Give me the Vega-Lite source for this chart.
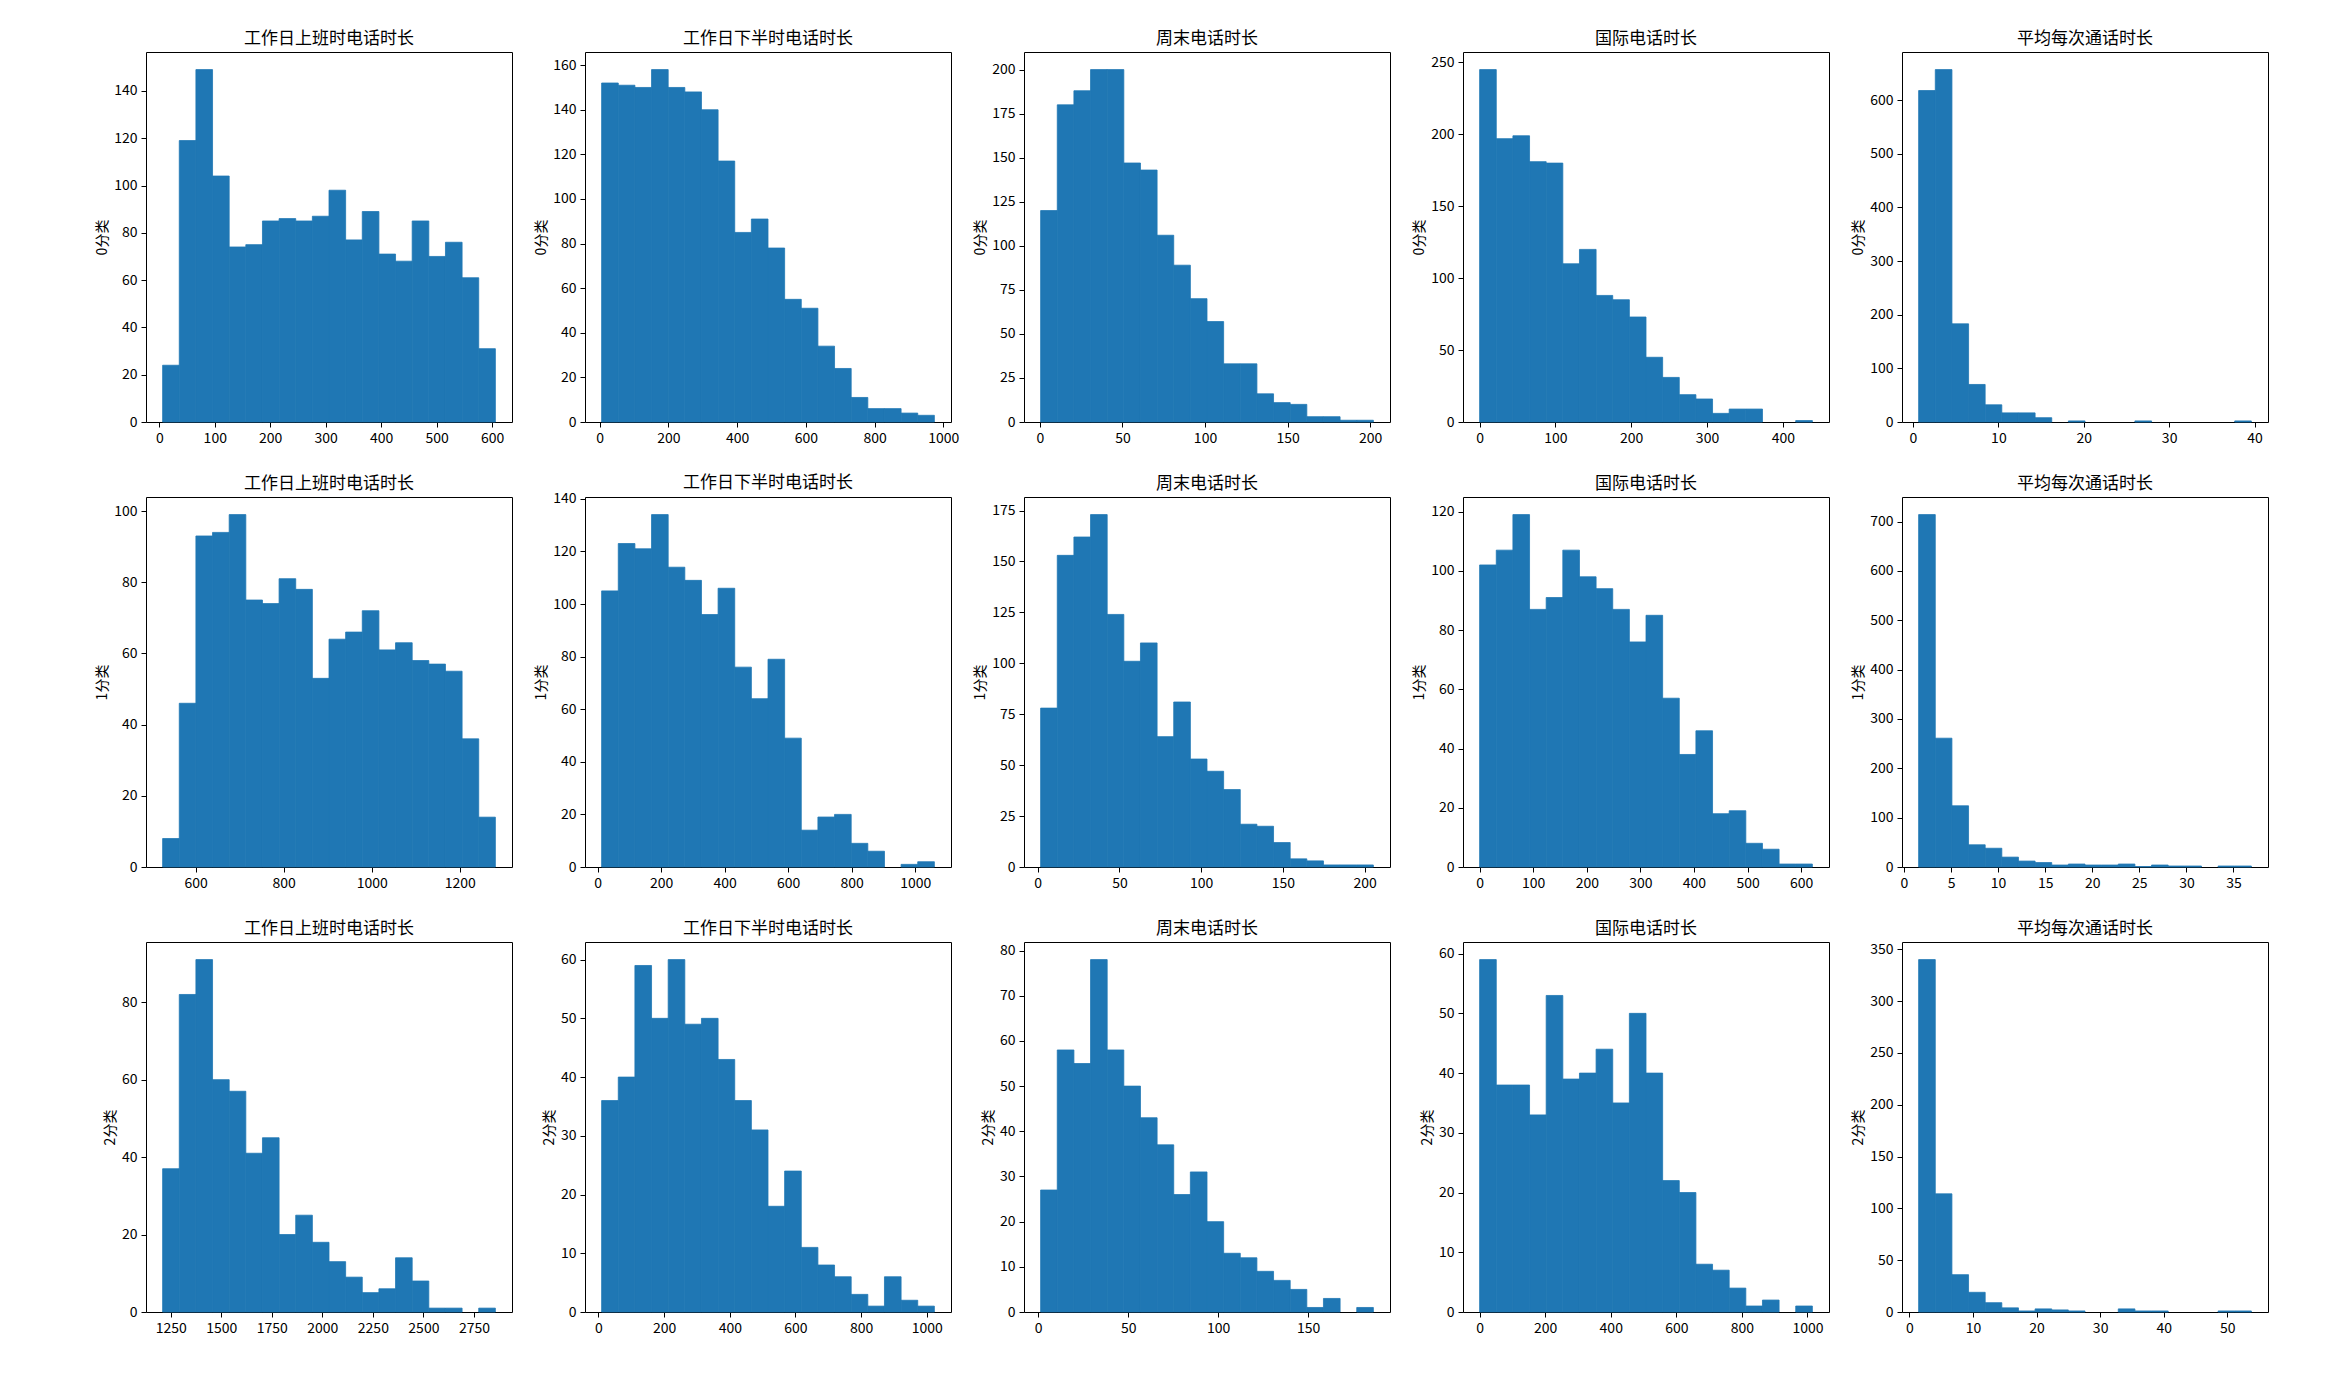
{
"$schema": "https://vega.github.io/schema/vega-lite/v6.json",
"background": "white",
"padding": {"left": 95, "top": 29, "right": 5, "bottom": 5},
"bounds": "flush",
"columns": 5,
"spacing": {"row": 75, "column": 73},
"resolve": {"scale": {"x": "independent", "y": "independent"}},
"config": {
  "numberFormat": "d",
  "view": {"stroke": "black", "strokeWidth": 1},
  "rect": {"color": "#1f77b4", "stroke": "#1f77b4", "strokeWidth": 0.8},
  "axis": {"domain": false, "grid": false, "tickColor": "black", "tickSize": 5, "tickWidth": 1, "labelFont": "Noto Sans CJK SC", "labelFontSize": 14, "labelColor": "black", "labelPadding": 4, "titleFont": "Noto Sans CJK SC", "titleFontSize": 14, "titleFontWeight": "normal", "titleColor": "black", "titlePadding": 4, "format": "d"},
  "title": {"font": "Noto Sans CJK SC", "fontSize": 17, "fontWeight": "normal", "anchor": "middle", "frame": "group", "offset": 4, "color": "black"}
},
"datasets": {
  "r0c0": [{"s":6,"e":36,"n":24},{"s":36,"e":66,"n":119},{"s":66,"e":96,"n":149},{"s":96,"e":126,"n":104},{"s":126,"e":156,"n":74},{"s":156,"e":186,"n":75},{"s":186,"e":216,"n":85},{"s":216,"e":246,"n":86},{"s":246,"e":276,"n":85},{"s":276,"e":306,"n":87},{"s":306,"e":336,"n":98},{"s":336,"e":366,"n":77},{"s":366,"e":396,"n":89},{"s":396,"e":426,"n":71},{"s":426,"e":456,"n":68},{"s":456,"e":486,"n":85},{"s":486,"e":516,"n":70},{"s":516,"e":546,"n":76},{"s":546,"e":576,"n":61},{"s":576,"e":606,"n":31}],
  "r0c1": [{"s":5.6,"e":54.02,"n":152},{"s":54.02,"e":102.44,"n":151},{"s":102.44,"e":150.86,"n":150},{"s":150.86,"e":199.28,"n":158},{"s":199.28,"e":247.7,"n":150},{"s":247.7,"e":296.12,"n":148},{"s":296.12,"e":344.54,"n":140},{"s":344.54,"e":392.96,"n":117},{"s":392.96,"e":441.38,"n":85},{"s":441.38,"e":489.8,"n":91},{"s":489.8,"e":538.22,"n":78},{"s":538.22,"e":586.64,"n":55},{"s":586.64,"e":635.06,"n":51},{"s":635.06,"e":683.48,"n":34},{"s":683.48,"e":731.9,"n":24},{"s":731.9,"e":780.32,"n":11},{"s":780.32,"e":828.74,"n":6},{"s":828.74,"e":877.16,"n":6},{"s":877.16,"e":925.58,"n":4},{"s":925.58,"e":974,"n":3}],
  "r0c2": [{"s":0.4,"e":10.48,"n":120},{"s":10.48,"e":20.56,"n":180},{"s":20.56,"e":30.64,"n":188},{"s":30.64,"e":40.72,"n":200},{"s":40.72,"e":50.8,"n":200},{"s":50.8,"e":60.88,"n":147},{"s":60.88,"e":70.96,"n":143},{"s":70.96,"e":81.04,"n":106},{"s":81.04,"e":91.12,"n":89},{"s":91.12,"e":101.2,"n":70},{"s":101.2,"e":111.28,"n":57},{"s":111.28,"e":121.36,"n":33},{"s":121.36,"e":131.44,"n":33},{"s":131.44,"e":141.52,"n":16},{"s":141.52,"e":151.6,"n":11},{"s":151.6,"e":161.68,"n":10},{"s":161.68,"e":171.76,"n":3},{"s":171.76,"e":181.84,"n":3},{"s":181.84,"e":191.92,"n":1},{"s":191.92,"e":202,"n":1}],
  "r0c3": [{"s":0,"e":21.95,"n":245},{"s":21.95,"e":43.9,"n":197},{"s":43.9,"e":65.85,"n":199},{"s":65.85,"e":87.8,"n":181},{"s":87.8,"e":109.75,"n":180},{"s":109.75,"e":131.7,"n":110},{"s":131.7,"e":153.65,"n":120},{"s":153.65,"e":175.6,"n":88},{"s":175.6,"e":197.55,"n":85},{"s":197.55,"e":219.5,"n":73},{"s":219.5,"e":241.45,"n":45},{"s":241.45,"e":263.4,"n":31},{"s":263.4,"e":285.35,"n":19},{"s":285.35,"e":307.3,"n":16},{"s":307.3,"e":329.25,"n":6},{"s":329.25,"e":351.2,"n":9},{"s":351.2,"e":373.15,"n":9},{"s":373.15,"e":395.1,"n":0},{"s":395.1,"e":417.05,"n":0},{"s":417.05,"e":439,"n":1}],
  "r0c4": [{"s":0.66,"e":2.61,"n":618},{"s":2.61,"e":4.56,"n":657},{"s":4.56,"e":6.51,"n":183},{"s":6.51,"e":8.45,"n":70},{"s":8.45,"e":10.4,"n":32},{"s":10.4,"e":12.35,"n":17},{"s":12.35,"e":14.3,"n":17},{"s":14.3,"e":16.25,"n":8},{"s":16.25,"e":18.2,"n":0},{"s":18.2,"e":20.15,"n":2},{"s":20.15,"e":22.09,"n":0},{"s":22.09,"e":24.04,"n":0},{"s":24.04,"e":25.99,"n":0},{"s":25.99,"e":27.94,"n":2},{"s":27.94,"e":29.89,"n":0},{"s":29.89,"e":31.84,"n":0},{"s":31.84,"e":33.78,"n":0},{"s":33.78,"e":35.73,"n":0},{"s":35.73,"e":37.68,"n":0},{"s":37.68,"e":39.63,"n":2}],
  "r1c0": [{"s":525,"e":562.8,"n":8},{"s":562.8,"e":600.6,"n":46},{"s":600.6,"e":638.4,"n":93},{"s":638.4,"e":676.2,"n":94},{"s":676.2,"e":714,"n":99},{"s":714,"e":751.8,"n":75},{"s":751.8,"e":789.6,"n":74},{"s":789.6,"e":827.4,"n":81},{"s":827.4,"e":865.2,"n":78},{"s":865.2,"e":903,"n":53},{"s":903,"e":940.8,"n":64},{"s":940.8,"e":978.6,"n":66},{"s":978.6,"e":1016.4,"n":72},{"s":1016.4,"e":1054.2,"n":61},{"s":1054.2,"e":1092,"n":63},{"s":1092,"e":1129.8,"n":58},{"s":1129.8,"e":1167.6,"n":57},{"s":1167.6,"e":1205.4,"n":55},{"s":1205.4,"e":1243.2,"n":36},{"s":1243.2,"e":1281,"n":14}],
  "r1c1": [{"s":12.4,"e":64.79,"n":105},{"s":64.79,"e":117.18,"n":123},{"s":117.18,"e":169.57,"n":121},{"s":169.57,"e":221.96,"n":134},{"s":221.96,"e":274.35,"n":114},{"s":274.35,"e":326.74,"n":109},{"s":326.74,"e":379.13,"n":96},{"s":379.13,"e":431.52,"n":106},{"s":431.52,"e":483.91,"n":76},{"s":483.91,"e":536.3,"n":64},{"s":536.3,"e":588.69,"n":79},{"s":588.69,"e":641.08,"n":49},{"s":641.08,"e":693.47,"n":14},{"s":693.47,"e":745.86,"n":19},{"s":745.86,"e":798.25,"n":20},{"s":798.25,"e":850.64,"n":9},{"s":850.64,"e":903.03,"n":6},{"s":903.03,"e":955.42,"n":0},{"s":955.42,"e":1007.81,"n":1},{"s":1007.81,"e":1060.2,"n":2}],
  "r1c2": [{"s":1.8,"e":11.98,"n":78},{"s":11.98,"e":22.16,"n":153},{"s":22.16,"e":32.34,"n":162},{"s":32.34,"e":42.52,"n":173},{"s":42.52,"e":52.7,"n":124},{"s":52.7,"e":62.88,"n":101},{"s":62.88,"e":73.06,"n":110},{"s":73.06,"e":83.24,"n":64},{"s":83.24,"e":93.42,"n":81},{"s":93.42,"e":103.6,"n":53},{"s":103.6,"e":113.78,"n":47},{"s":113.78,"e":123.96,"n":38},{"s":123.96,"e":134.14,"n":21},{"s":134.14,"e":144.32,"n":20},{"s":144.32,"e":154.5,"n":12},{"s":154.5,"e":164.68,"n":4},{"s":164.68,"e":174.86,"n":3},{"s":174.86,"e":185.04,"n":1},{"s":185.04,"e":195.22,"n":1},{"s":195.22,"e":205.4,"n":1}],
  "r1c3": [{"s":0,"e":31.05,"n":102},{"s":31.05,"e":62.1,"n":107},{"s":62.1,"e":93.15,"n":119},{"s":93.15,"e":124.2,"n":87},{"s":124.2,"e":155.25,"n":91},{"s":155.25,"e":186.3,"n":107},{"s":186.3,"e":217.35,"n":98},{"s":217.35,"e":248.4,"n":94},{"s":248.4,"e":279.45,"n":87},{"s":279.45,"e":310.5,"n":76},{"s":310.5,"e":341.55,"n":85},{"s":341.55,"e":372.6,"n":57},{"s":372.6,"e":403.65,"n":38},{"s":403.65,"e":434.7,"n":46},{"s":434.7,"e":465.75,"n":18},{"s":465.75,"e":496.8,"n":19},{"s":496.8,"e":527.85,"n":8},{"s":527.85,"e":558.9,"n":6},{"s":558.9,"e":589.95,"n":1},{"s":589.95,"e":621,"n":1}],
  "r1c4": [{"s":1.56,"e":3.327,"n":714},{"s":3.327,"e":5.094,"n":261},{"s":5.094,"e":6.861,"n":124},{"s":6.861,"e":8.628,"n":45},{"s":8.628,"e":10.395,"n":38},{"s":10.395,"e":12.162,"n":20},{"s":12.162,"e":13.929,"n":12},{"s":13.929,"e":15.696,"n":9},{"s":15.696,"e":17.463,"n":4},{"s":17.463,"e":19.23,"n":6},{"s":19.23,"e":20.997,"n":4},{"s":20.997,"e":22.764,"n":4},{"s":22.764,"e":24.531,"n":6},{"s":24.531,"e":26.298,"n":1},{"s":26.298,"e":28.065,"n":4},{"s":28.065,"e":29.832,"n":2},{"s":29.832,"e":31.599,"n":2},{"s":31.599,"e":33.366,"n":0},{"s":33.366,"e":35.133,"n":2},{"s":35.133,"e":36.9,"n":2}],
  "r2c0": [{"s":1210,"e":1292.3,"n":37},{"s":1292.3,"e":1374.6,"n":82},{"s":1374.6,"e":1456.9,"n":91},{"s":1456.9,"e":1539.2,"n":60},{"s":1539.2,"e":1621.5,"n":57},{"s":1621.5,"e":1703.8,"n":41},{"s":1703.8,"e":1786.1,"n":45},{"s":1786.1,"e":1868.4,"n":20},{"s":1868.4,"e":1950.7,"n":25},{"s":1950.7,"e":2033,"n":18},{"s":2033,"e":2115.3,"n":13},{"s":2115.3,"e":2197.6,"n":9},{"s":2197.6,"e":2279.9,"n":5},{"s":2279.9,"e":2362.2,"n":6},{"s":2362.2,"e":2444.5,"n":14},{"s":2444.5,"e":2526.8,"n":8},{"s":2526.8,"e":2609.1,"n":1},{"s":2609.1,"e":2691.4,"n":1},{"s":2691.4,"e":2773.7,"n":0},{"s":2773.7,"e":2856,"n":1}],
  "r2c1": [{"s":9.6,"e":60.27,"n":36},{"s":60.27,"e":110.94,"n":40},{"s":110.94,"e":161.61,"n":59},{"s":161.61,"e":212.28,"n":50},{"s":212.28,"e":262.95,"n":60},{"s":262.95,"e":313.62,"n":49},{"s":313.62,"e":364.29,"n":50},{"s":364.29,"e":414.96,"n":43},{"s":414.96,"e":465.63,"n":36},{"s":465.63,"e":516.3,"n":31},{"s":516.3,"e":566.97,"n":18},{"s":566.97,"e":617.64,"n":24},{"s":617.64,"e":668.31,"n":11},{"s":668.31,"e":718.98,"n":8},{"s":718.98,"e":769.65,"n":6},{"s":769.65,"e":820.32,"n":3},{"s":820.32,"e":870.99,"n":1},{"s":870.99,"e":921.66,"n":6},{"s":921.66,"e":972.33,"n":2},{"s":972.33,"e":1023,"n":1}],
  "r2c2": [{"s":1.35,"e":10.59,"n":27},{"s":10.59,"e":19.84,"n":58},{"s":19.84,"e":29.08,"n":55},{"s":29.08,"e":38.32,"n":78},{"s":38.32,"e":47.56,"n":58},{"s":47.56,"e":56.81,"n":50},{"s":56.81,"e":66.05,"n":43},{"s":66.05,"e":75.29,"n":37},{"s":75.29,"e":84.53,"n":26},{"s":84.53,"e":93.78,"n":31},{"s":93.78,"e":103.02,"n":20},{"s":103.02,"e":112.26,"n":13},{"s":112.26,"e":121.5,"n":12},{"s":121.5,"e":130.75,"n":9},{"s":130.75,"e":139.99,"n":7},{"s":139.99,"e":149.23,"n":5},{"s":149.23,"e":158.47,"n":1},{"s":158.47,"e":167.72,"n":3},{"s":167.72,"e":176.96,"n":0},{"s":176.96,"e":186.2,"n":1}],
  "r2c3": [{"s":0,"e":50.75,"n":59},{"s":50.75,"e":101.5,"n":38},{"s":101.5,"e":152.25,"n":38},{"s":152.25,"e":203,"n":33},{"s":203,"e":253.75,"n":53},{"s":253.75,"e":304.5,"n":39},{"s":304.5,"e":355.25,"n":40},{"s":355.25,"e":406,"n":44},{"s":406,"e":456.75,"n":35},{"s":456.75,"e":507.5,"n":50},{"s":507.5,"e":558.25,"n":40},{"s":558.25,"e":609,"n":22},{"s":609,"e":659.75,"n":20},{"s":659.75,"e":710.5,"n":8},{"s":710.5,"e":761.25,"n":7},{"s":761.25,"e":812,"n":4},{"s":812,"e":862.75,"n":1},{"s":862.75,"e":913.5,"n":2},{"s":913.5,"e":964.25,"n":0},{"s":964.25,"e":1015,"n":1}],
  "r2c4": [{"s":1.44,"e":4.058,"n":340},{"s":4.058,"e":6.676,"n":114},{"s":6.676,"e":9.294,"n":36},{"s":9.294,"e":11.912,"n":19},{"s":11.912,"e":14.53,"n":9},{"s":14.53,"e":17.148,"n":4},{"s":17.148,"e":19.766,"n":1},{"s":19.766,"e":22.384,"n":3},{"s":22.384,"e":25.002,"n":2},{"s":25.002,"e":27.62,"n":1},{"s":27.62,"e":30.238,"n":0},{"s":30.238,"e":32.856,"n":0},{"s":32.856,"e":35.474,"n":3},{"s":35.474,"e":38.092,"n":1},{"s":38.092,"e":40.71,"n":1},{"s":40.71,"e":43.328,"n":0},{"s":43.328,"e":45.946,"n":0},{"s":45.946,"e":48.564,"n":0},{"s":48.564,"e":51.182,"n":1},{"s":51.182,"e":53.8,"n":1}]
},
"concat": [
  {"width": 366, "height": 370, "title": "工作日上班时电话时长", "data": {"name": "r0c0"}, "transform": [{"filter": "datum.n > 0"}], "mark": {"type": "rect"},
   "encoding": {"x": {"field": "s", "type": "quantitative", "scale": {"domain": [-24, 636], "nice": false, "zero": false}, "axis": {"values": [0,100,200,300,400,500,600], "title": null}}, "x2": {"field": "e"},
     "y": {"field": "n", "type": "quantitative", "scale": {"domain": [0, 156.45], "nice": false}, "axis": {"values": [0,20,40,60,80,100,120,140], "title": "0分类"}}, "y2": {"datum": 0}}},
  {"width": 366, "height": 370, "title": "工作日下半时电话时长", "data": {"name": "r0c1"}, "transform": [{"filter": "datum.n > 0"}], "mark": {"type": "rect"},
   "encoding": {"x": {"field": "s", "type": "quantitative", "scale": {"domain": [-42.82, 1022.42], "nice": false, "zero": false}, "axis": {"values": [0,200,400,600,800,1000], "title": null}}, "x2": {"field": "e"},
     "y": {"field": "n", "type": "quantitative", "scale": {"domain": [0, 165.9], "nice": false}, "axis": {"values": [0,20,40,60,80,100,120,140,160], "title": "0分类"}}, "y2": {"datum": 0}}},
  {"width": 366, "height": 370, "title": "周末电话时长", "data": {"name": "r0c2"}, "transform": [{"filter": "datum.n > 0"}], "mark": {"type": "rect"},
   "encoding": {"x": {"field": "s", "type": "quantitative", "scale": {"domain": [-9.68, 212.08], "nice": false, "zero": false}, "axis": {"values": [0,50,100,150,200], "title": null}}, "x2": {"field": "e"},
     "y": {"field": "n", "type": "quantitative", "scale": {"domain": [0, 210], "nice": false}, "axis": {"values": [0,25,50,75,100,125,150,175,200], "title": "0分类"}}, "y2": {"datum": 0}}},
  {"width": 366, "height": 370, "title": "国际电话时长", "data": {"name": "r0c3"}, "transform": [{"filter": "datum.n > 0"}], "mark": {"type": "rect"},
   "encoding": {"x": {"field": "s", "type": "quantitative", "scale": {"domain": [-21.95, 460.95], "nice": false, "zero": false}, "axis": {"values": [0,100,200,300,400], "title": null}}, "x2": {"field": "e"},
     "y": {"field": "n", "type": "quantitative", "scale": {"domain": [0, 257.25], "nice": false}, "axis": {"values": [0,50,100,150,200,250], "title": "0分类"}}, "y2": {"datum": 0}}},
  {"width": 366, "height": 370, "title": "平均每次通话时长", "data": {"name": "r0c4"}, "transform": [{"filter": "datum.n > 0"}], "mark": {"type": "rect"},
   "encoding": {"x": {"field": "s", "type": "quantitative", "scale": {"domain": [-1.29, 41.58], "nice": false, "zero": false}, "axis": {"values": [0,10,20,30,40], "title": null}}, "x2": {"field": "e"},
     "y": {"field": "n", "type": "quantitative", "scale": {"domain": [0, 689.85], "nice": false}, "axis": {"values": [0,100,200,300,400,500,600], "title": "0分类"}}, "y2": {"datum": 0}}},
  {"width": 366, "height": 370, "title": "工作日上班时电话时长", "data": {"name": "r1c0"}, "transform": [{"filter": "datum.n > 0"}], "mark": {"type": "rect"},
   "encoding": {"x": {"field": "s", "type": "quantitative", "scale": {"domain": [487.2, 1318.8], "nice": false, "zero": false}, "axis": {"values": [600,800,1000,1200], "title": null}}, "x2": {"field": "e"},
     "y": {"field": "n", "type": "quantitative", "scale": {"domain": [0, 103.95], "nice": false}, "axis": {"values": [0,20,40,60,80,100], "title": "1分类"}}, "y2": {"datum": 0}}},
  {"width": 366, "height": 370, "title": {"text": "工作日下半时电话时长", "offset": 0}, "data": {"name": "r1c1"}, "transform": [{"filter": "datum.n > 0"}], "mark": {"type": "rect"},
   "encoding": {"x": {"field": "s", "type": "quantitative", "scale": {"domain": [-39.99, 1112.59], "nice": false, "zero": false}, "axis": {"values": [0,200,400,600,800,1000], "title": null}}, "x2": {"field": "e"},
     "y": {"field": "n", "type": "quantitative", "scale": {"domain": [0, 140.7], "nice": false}, "axis": {"values": [0,20,40,60,80,100,120,140], "title": "1分类"}}, "y2": {"datum": 0}}},
  {"width": 366, "height": 370, "title": "周末电话时长", "data": {"name": "r1c2"}, "transform": [{"filter": "datum.n > 0"}], "mark": {"type": "rect"},
   "encoding": {"x": {"field": "s", "type": "quantitative", "scale": {"domain": [-8.38, 215.58], "nice": false, "zero": false}, "axis": {"values": [0,50,100,150,200], "title": null}}, "x2": {"field": "e"},
     "y": {"field": "n", "type": "quantitative", "scale": {"domain": [0, 181.65], "nice": false}, "axis": {"values": [0,25,50,75,100,125,150,175], "title": "1分类"}}, "y2": {"datum": 0}}},
  {"width": 366, "height": 370, "title": "国际电话时长", "data": {"name": "r1c3"}, "transform": [{"filter": "datum.n > 0"}], "mark": {"type": "rect"},
   "encoding": {"x": {"field": "s", "type": "quantitative", "scale": {"domain": [-31.05, 652.05], "nice": false, "zero": false}, "axis": {"values": [0,100,200,300,400,500,600], "title": null}}, "x2": {"field": "e"},
     "y": {"field": "n", "type": "quantitative", "scale": {"domain": [0, 124.95], "nice": false}, "axis": {"values": [0,20,40,60,80,100,120], "title": "1分类"}}, "y2": {"datum": 0}}},
  {"width": 366, "height": 370, "title": "平均每次通话时长", "data": {"name": "r1c4"}, "transform": [{"filter": "datum.n > 0"}], "mark": {"type": "rect"},
   "encoding": {"x": {"field": "s", "type": "quantitative", "scale": {"domain": [-0.207, 38.667], "nice": false, "zero": false}, "axis": {"values": [0,5,10,15,20,25,30,35], "title": null}}, "x2": {"field": "e"},
     "y": {"field": "n", "type": "quantitative", "scale": {"domain": [0, 749.7], "nice": false}, "axis": {"values": [0,100,200,300,400,500,600,700], "title": "1分类"}}, "y2": {"datum": 0}}},
  {"width": 366, "height": 370, "title": "工作日上班时电话时长", "data": {"name": "r2c0"}, "transform": [{"filter": "datum.n > 0"}], "mark": {"type": "rect"},
   "encoding": {"x": {"field": "s", "type": "quantitative", "scale": {"domain": [1127.7, 2938.3], "nice": false, "zero": false}, "axis": {"values": [1250,1500,1750,2000,2250,2500,2750], "title": null}}, "x2": {"field": "e"},
     "y": {"field": "n", "type": "quantitative", "scale": {"domain": [0, 95.55], "nice": false}, "axis": {"values": [0,20,40,60,80], "title": "2分类"}}, "y2": {"datum": 0}}},
  {"width": 366, "height": 370, "title": "工作日下半时电话时长", "data": {"name": "r2c1"}, "transform": [{"filter": "datum.n > 0"}], "mark": {"type": "rect"},
   "encoding": {"x": {"field": "s", "type": "quantitative", "scale": {"domain": [-41.07, 1073.67], "nice": false, "zero": false}, "axis": {"values": [0,200,400,600,800,1000], "title": null}}, "x2": {"field": "e"},
     "y": {"field": "n", "type": "quantitative", "scale": {"domain": [0, 63], "nice": false}, "axis": {"values": [0,10,20,30,40,50,60], "title": "2分类"}}, "y2": {"datum": 0}}},
  {"width": 366, "height": 370, "title": "周末电话时长", "data": {"name": "r2c2"}, "transform": [{"filter": "datum.n > 0"}], "mark": {"type": "rect"},
   "encoding": {"x": {"field": "s", "type": "quantitative", "scale": {"domain": [-7.89, 195.44], "nice": false, "zero": false}, "axis": {"values": [0,50,100,150], "title": null}}, "x2": {"field": "e"},
     "y": {"field": "n", "type": "quantitative", "scale": {"domain": [0, 81.9], "nice": false}, "axis": {"values": [0,10,20,30,40,50,60,70,80], "title": "2分类"}}, "y2": {"datum": 0}}},
  {"width": 366, "height": 370, "title": "国际电话时长", "data": {"name": "r2c3"}, "transform": [{"filter": "datum.n > 0"}], "mark": {"type": "rect"},
   "encoding": {"x": {"field": "s", "type": "quantitative", "scale": {"domain": [-50.75, 1065.75], "nice": false, "zero": false}, "axis": {"values": [0,200,400,600,800,1000], "title": null}}, "x2": {"field": "e"},
     "y": {"field": "n", "type": "quantitative", "scale": {"domain": [0, 61.95], "nice": false}, "axis": {"values": [0,10,20,30,40,50,60], "title": "2分类"}}, "y2": {"datum": 0}}},
  {"width": 366, "height": 370, "title": "平均每次通话时长", "data": {"name": "r2c4"}, "transform": [{"filter": "datum.n > 0"}], "mark": {"type": "rect"},
   "encoding": {"x": {"field": "s", "type": "quantitative", "scale": {"domain": [-1.178, 56.418], "nice": false, "zero": false}, "axis": {"values": [0,10,20,30,40,50], "title": null}}, "x2": {"field": "e"},
     "y": {"field": "n", "type": "quantitative", "scale": {"domain": [0, 357], "nice": false}, "axis": {"values": [0,50,100,150,200,250,300,350], "title": "2分类"}}, "y2": {"datum": 0}}}
]
}
